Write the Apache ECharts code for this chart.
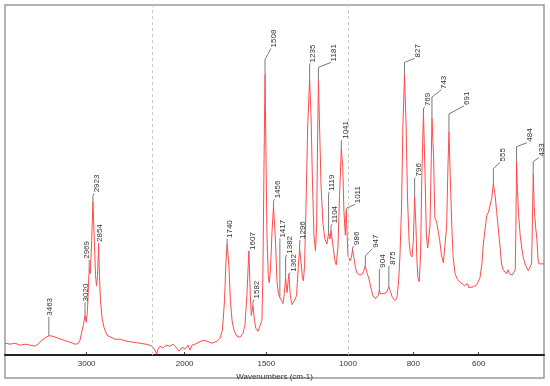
<!DOCTYPE html>
<html><head><meta charset="utf-8">
<script src="https://cdn.jsdelivr.net/npm/echarts@6/dist/echarts.min.js"></script>
<style>html,body{margin:0;padding:0;background:#fff}#c{width:550px;height:386px}</style>
</head><body><div id="c"></div>
<script>
// Spectrum (wavenumber cm-1, absorbance in arbitrary units)
const specW = [4000,3939,3878,3816,3755,3694,3633,3596,3547,3498,3461,3412,3351,3278,3204,3143,3106,3082,3057,3033,3020,3005,2990,2978,2969,2956,2941,2923,2904,2891,2880,2867,2854,2843,2831,2812,2788,2751,2702,2653,2592,2506,2433,2347,2273,2224,2194,2182,2172,2163,2151,2133,2114,2090,2071,2053,2035,2026,2016,1998,1980,1967,1955,1937,1912,1888,1863,1833,1802,1784,1769,1756,1747,1740,1729,1720,1710,1698,1680,1661,1643,1631,1619,1607,1598,1592,1582,1573,1564,1551,1539,1527,1521,1515,1508,1502,1496,1488,1482,1475,1465,1456,1444,1435,1426,1417,1408,1398,1390,1382,1373,1362,1353,1343,1331,1315,1304,1296,1288,1279,1273,1266,1257,1247,1235,1226,1217,1208,1199,1192,1186,1181,1174,1165,1153,1141,1129,1119,1110,1104,1090,1080,1072,1061,1052,1041,1032,1025,1016,1011,1005,1000,997,994,990,986,982,977,973,966,958,953,947,942,936,930,924,917,911,907,904,901,896,890,882,875,870,864,856,850,845,841,836,832,827,822,818,813,809,804,800,796,792,789,786,782,778,774,769,764,760,756,753,749,745,743,738,734,729,724,719,714,708,703,698,694,691,687,682,678,672,666,659,651,643,639,634,630,624,615,606,596,590,586,580,575,570,565,560,555,550,545,540,535,530,525,519,515,510,506,501,497,492,488,486,484,481,478,473,468,463,458,453,448,443,438,436,433,430,426,422,418,415,412,410,407,404,400];
const specA = [12,11,12,10,11,10,9,11,15,18,19.5,19,17,15,13,11,11.5,15,24,34,40,33,45,70,87,82,110,155,110,80,70,80,112,80,55,38,28,20,18,16,16,14,13,12,11,10,8,5,1,6,9,7,10,9,11,8,4,2,8,6,10,5,10,11,13,15,14,12,14,17,25,55,95,112,90,55,35,25,19,18,22,30,60,105,60,40,50,35,27,24,26,35,80,180,283,200,120,80,73,85,125,150,115,75,62,58,55,52,62,78,63,82,60,51,54,60,90,107,95,78,75,90,150,230,278,240,170,120,105,130,220,277,230,170,132,117,112,123,117,126,108,95,91,110,160,208,190,145,121,146,120,100,101,95,98,106,98,88,83,81,81,84,90,83,77,68,60,57,57,60,66,62,62,62,63,69,64,58,55,58,75,100,150,230,283,230,160,115,102,99,115,160,130,95,78,74,100,180,245,180,120,108,106,130,200,239,200,138,135,136,115,101,93,95,130,190,225,180,128,98,82,77,74,72,70,68,72,68,68,69,71,78,92,111,128,141,144,146,158,173,162,145,128,111,92,86,85,82,86,82,84,81,83,86,130,195,165,143,121,108,98,92,88,85,86,92,125,183,150,130,118,96,92,91,94,92,93,92];

// Labelled peaks
const peakW = [3463,3020,2969,2923,2854,1740,1607,1582,1508,1456,1417,1382,1362,1296,1235,1181,1119,1104,1041,1011,986,947,904,875,827,796,769,743,691,555,484,433];
const peakA = [19.5,40,87,155,112,112,105,50,283,150,58,78,82,107,278,277,123,126,208,146,106,90,66,69,283,160,245,239,225,173,195,183];

// Axis tick labels
const tickLabels = [3000,2000,1500,1000,800,600];
const axisTitle = 'Wavenumbers (cm-1)';

// Label placement (layout only): [dx, dy of label start, vertical leader length] in px
const labelLayout = [[1,-20,17],[1,-14,8],[-2,-10,4],[4,-9,5],[1.5,-2,1],[2.5,-6,4],[3.5,-1,0],[4,-7,3],[9,-27,15],[4,-8,5],[3,-60,57],[4,-24,20],[4.5,-2,0],[3.3,-10,5],[3.4,-17,14],[15.6,-19,13],[3.5,-42,38],[4,-7,4],[4,-10,8],[12,-7,2],[4,-5,2],[10,-18,10],[3,-22,20],[4,-22,20],[13,-17,12],[4,-20,18],[4.5,-6,4],[12,-29,21],[18,-27,18],[9.6,-22,15],[13.4,-20,15],[8.7,-17,12]];

// Piecewise-linear wavenumber scale (OMNIC style: x1 above 2200, x2 2200-1000, x4 below 1000)
function toT(w){ if (w >= 2200) return 4000 - w; if (w >= 1000) return 1800 + 2*(2200 - w); return 4200 + 4*(1000 - w); }
function fromT(t){ if (t <= 1800) return 4000 - t; if (t <= 4200) return 2200 - (t - 1800)/2; return 1000 - (t - 4200)/4; }

const FONT = '8px "Liberation Sans", Arial, sans-serif';
const chart = echarts.init(document.getElementById('c'), null, {renderer:'canvas'});
chart.setOption({
  animation:false,
  backgroundColor:'#fff',
  grid:{left:5,right:6,top:5,bottom:28},
  xAxis:{type:'value',min:0,max:6600,
    name:axisTitle,nameLocation:'middle',nameGap:15,
    nameTextStyle:{color:'#333',fontSize:8,fontFamily:'Liberation Sans'},
    axisLine:{show:true,lineStyle:{color:'#222',width:2}},
    axisTick:{show:true,inside:true,length:3,customValues:tickLabels.map(toT),lineStyle:{color:'#333'}},
    axisLabel:{customValues:tickLabels.map(toT),color:'#333',fontSize:8,fontFamily:'Liberation Sans',margin:5,
      formatter:v=>String(Math.round(fromT(v)))},
    splitLine:{show:false}},
  yAxis:{type:'value',min:0,max:353,show:false},
  graphic:[{type:'rect',shape:{x:5,y:5,width:539,height:373},style:{fill:'none',stroke:'#9a9a9a',lineWidth:1.5},silent:true,z:-1}],
  series:[
    {type:'line',data:specW.map((w,i)=>[toT(w),specA[i]]),showSymbol:false,
     lineStyle:{color:'#ff4a4a',width:1},z:3,
     markLine:{silent:true,symbol:'none',label:{show:false},
       lineStyle:{color:'#c8c8c8',type:[3,3],width:1},
       data:[{xAxis:toT(2200)},{xAxis:toT(1000)}]}},
    {type:'custom',z:4,
     data:peakW.map((w,i)=>[toT(w),peakA[i],i]),
     renderItem:function(params,api){
       const p = api.coord([api.value(0),api.value(1)]);
       const i = api.value(2);
       const o = labelLayout[i];
       const lx = p[0]+o[0], ly = p[1]+o[1];
       const ex = Math.max(p[0], lx-3);
       return {type:'group',children:[
         {type:'polyline',shape:{points:[[p[0],p[1]],[p[0],p[1]-o[2]],[ex,ly+1]]},
          style:{stroke:'#7a7a7a',lineWidth:1,fill:null}},
         {type:'text',x:lx,y:ly,rotation:Math.PI/2,
          style:{text:String(peakW[i]),x:0,y:0,align:'left',verticalAlign:'middle',fill:'#333',font:FONT}}
       ]};
     }}
  ]
});
</script></body></html>
